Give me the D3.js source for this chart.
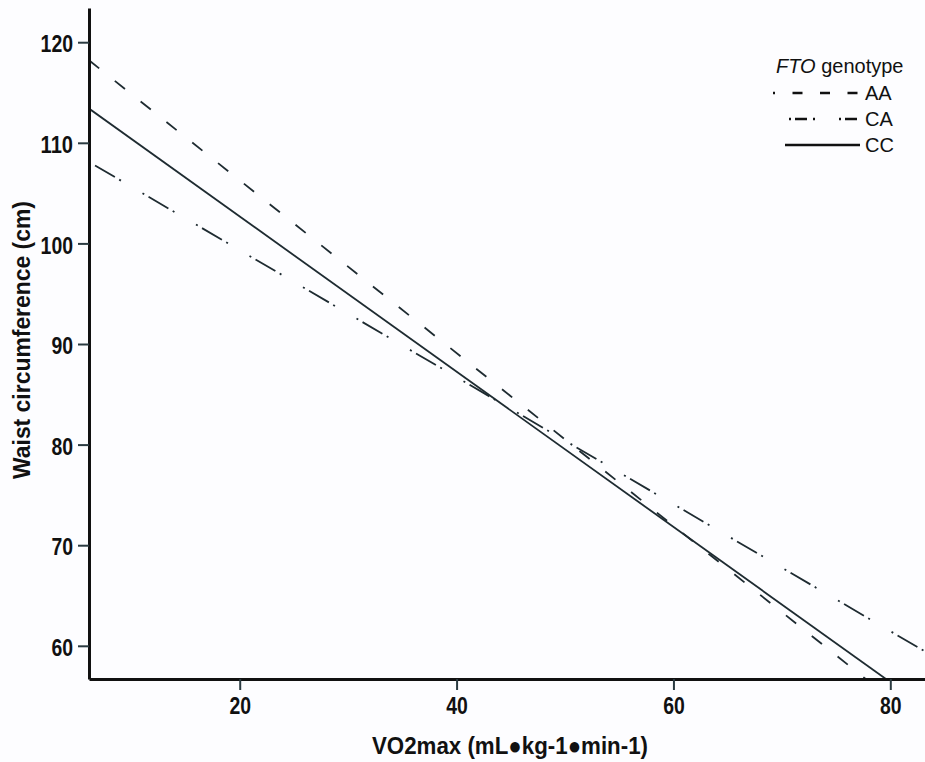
<!DOCTYPE html>
<html>
<head>
<meta charset="utf-8">
<script src="https://cdn.jsdelivr.net/npm/d3@7"></script>
<style>
  body { margin: 0; background: #fdfdff; }
  svg { display: block; }
  text { font-family: "Liberation Sans", Arial, sans-serif; fill: #111; }
</style>
</head>
<body>
<svg id="chart"></svg>
<script>
// chart size
let vWidth = 925;
let vHeight = 762;

// fitted lines at both ends of the x axis
let genotypes = ["AA", "CA", "CC"];
let vo2Ends = [6.1, 83.1];
let waistAA = [118.2, 52.1];
let waistCA = [108.1, 59.5];
let waistCC = [113.4, 54.0];

let xTicks = [20, 40, 60, 80];
let yTicks = [60, 70, 80, 90, 100, 110, 120];

let dashes = {
  AA: "13,20",
  CA: "2,5,23,5,2,25",
  CC: null
};
let legendDashes = {
  AA: "10,17.5",
  CA: "2,4,12,6,2,24",
  CC: null
};

let svg = d3.select('#chart')
  .attr('width', vWidth)
  .attr('height', vHeight)

let x = d3.scaleLinear()
  .domain([6.1, 83.2])
  .range([89, 925])

let y = d3.scaleLinear()
  .domain([56.7, 123.4])
  .range([679, 8])

svg.append('clipPath')
  .attr('id', 'plot')
  .append('rect')
  .attr('x', 89)
  .attr('y', 8)
  .attr('width', 925 - 89)
  .attr('height', 679 - 8)

let series = genotypes.map((g) => {
  let vals = { AA: waistAA, CA: waistCA, CC: waistCC }[g]
  return { key: g, points: vo2Ends.map((v, i) => [v, vals[i]]) }
})

let line = d3.line()
  .x((d) => x(d[0]))
  .y((d) => y(d[1]))

svg.append('g')
  .attr('clip-path', 'url(#plot)')
  .selectAll('path')
  .data(series)
  .enter()
  .append('path')
  .attr('d', (d) => line(d.points))
  .attr('fill', 'none')
  .attr('stroke', '#1e2b31')
  .attr('stroke-width', 1.8)
  .attr('stroke-dasharray', (d) => dashes[d.key])

// axes
let xAxis = svg.append('g')
  .attr('transform', 'translate(0,679)')
  .call(d3.axisBottom(x).tickValues(xTicks).tickSize(11).tickSizeOuter(0).tickPadding(8))

let yAxis = svg.append('g')
  .attr('transform', 'translate(89,0)')
  .call(d3.axisLeft(y).tickValues(yTicks).tickSize(11).tickSizeOuter(0).tickPadding(5))

// the original font is a condensed bold face, so squeeze the labels
for (let ax of [xAxis, yAxis]) {
  ax.select('.domain').attr('stroke', '#111').attr('stroke-width', 3)
  ax.selectAll('.tick line').attr('stroke', '#2a3a40').attr('stroke-width', 2)
  ax.selectAll('.tick text')
    .style('font-size', '23px')
    .style('font-weight', 'bold')
    .attr('fill', '#111')
    .attr('textLength', (d) => String(d).length * 10.8)
    .attr('lengthAdjust', 'spacingAndGlyphs')
}
yAxis.selectAll('.tick text').attr('dy', '0.42em')
xAxis.selectAll('.tick text').attr('dy', '0.68em')

// axis titles
svg.append('text')
  .attr('x', 510)
  .attr('y', 754)
  .attr('text-anchor', 'middle')
  .attr('textLength', 276)
  .attr('lengthAdjust', 'spacingAndGlyphs')
  .style('font-size', '24px')
  .style('font-weight', 'bold')
  .text('VO2max (mL\u25CFkg-1\u25CFmin-1)')

svg.append('text')
  .attr('transform', 'translate(30,340) rotate(-90)')
  .attr('text-anchor', 'middle')
  .attr('textLength', 278)
  .attr('lengthAdjust', 'spacingAndGlyphs')
  .style('font-size', '24px')
  .style('font-weight', 'bold')
  .text('Waist circumference (cm)')

// legend
let legend = svg.append('g')

let title = legend.append('text')
  .attr('x', 776)
  .attr('y', 73)
  .style('font-size', '20px')
title.append('tspan').style('font-style', 'italic').text('FTO')
title.append('tspan').text(' genotype')

let legendY = { AA: 93, CA: 119, CC: 145 };
let legendStart = { AA: 773, CA: 789, CC: 785 };
let legendOffset = { AA: 8, CA: 0, CC: 0 };

let items = legend.selectAll('g.item')
  .data(genotypes)
  .enter()
  .append('g')
  .attr('class', 'item')

items.append('line')
  .attr('x1', (d) => legendStart[d])
  .attr('x2', 860)
  .attr('y1', (d) => legendY[d])
  .attr('y2', (d) => legendY[d])
  .attr('stroke', '#111')
  .attr('stroke-width', 2.5)
  .attr('stroke-dasharray', (d) => legendDashes[d])
  .attr('stroke-dashoffset', (d) => legendOffset[d])

items.append('text')
  .attr('x', 865)
  .attr('y', (d) => legendY[d] + 7)
  .style('font-size', '20px')
  .text((d) => d)
</script>
</body>
</html>
